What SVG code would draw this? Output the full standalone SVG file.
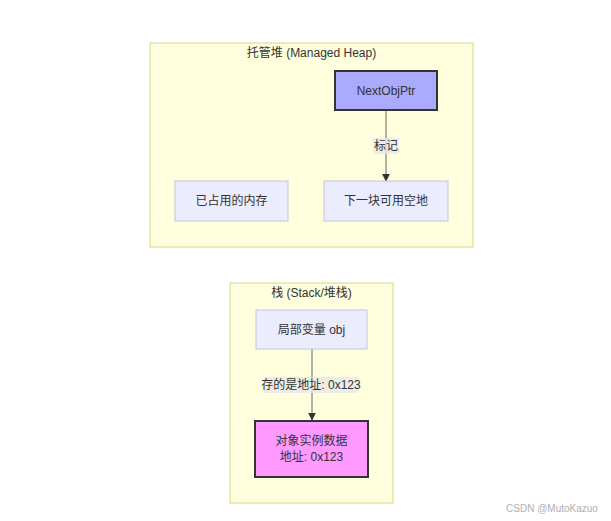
<svg xmlns="http://www.w3.org/2000/svg" width="611" height="521" viewBox="0 0 611 521">
<defs>
<style>
.cluster rect{fill:#ffffde;stroke:#d6d68a;stroke-width:1}
.node rect{fill:#ececff;stroke:#c4c4dc;stroke-width:1}
text{font-family:"Liberation Sans","Noto Sans CJK SC",sans-serif;font-size:12px;fill:#333;text-anchor:middle;dominant-baseline:central}
.edge{stroke:#666;stroke-width:1;fill:none;marker-end:url(#arr)}
.lbl{fill:#e8e8e8;opacity:0.8}
</style>
<marker id="arr" viewBox="0 0 10 10" refX="9" refY="5" markerWidth="8" markerHeight="8" orient="auto" markerUnits="userSpaceOnUse">
<path d="M0,0 L10,5 L0,10 z" fill="#333"/>
</marker>
</defs>
<rect width="611" height="521" fill="#ffffff"/>
<g id="heap" class="cluster">
<rect x="150" y="43" width="323" height="204"/>
<text x="311.5" y="53">托管堆 (Managed Heap)</text>
</g>
<g id="stack" class="cluster">
<rect x="230" y="283" width="163" height="220"/>
<text x="311.5" y="293">栈 (Stack/堆栈)</text>
</g>
<g id="connectors">
<line class="edge" x1="386" y1="110" x2="386" y2="181" style="stroke:#9a9a80;stroke-width:1.5"/>
<rect class="lbl" x="373" y="138" width="26" height="16"/>
<text x="386" y="146">标记</text>
<line class="edge" x1="312" y1="349" x2="312" y2="420"/>
<rect class="lbl" x="264" y="377" width="94" height="16"/>
<text x="311" y="385">存的是地址: 0x123</text>
</g>
<g id="nextObjPtr" class="node">
<rect x="335" y="71" width="102" height="39" style="fill:#aaaaff;stroke:#333;stroke-width:2"/>
<text x="386" y="90.5">NextObjPtr</text>
</g>
<g id="used" class="node">
<rect x="175" y="181" width="113" height="40"/>
<text x="231.5" y="201">已占用的内存</text>
</g>
<g id="free" class="node">
<rect x="324" y="181" width="124" height="40"/>
<text x="386" y="201">下一块可用空地</text>
</g>
<g id="obj" class="node">
<rect x="256" y="310" width="111" height="39"/>
<text x="311.5" y="329.5">局部变量 obj</text>
</g>
<g id="instance" class="node">
<rect x="255" y="421" width="113" height="56" style="fill:#ff99ff;stroke:#333;stroke-width:2"/>
<text x="311.5" y="441">对象实例数据</text>
<text x="311.5" y="457">地址: 0x123</text>
</g>
<text x="552" y="508" style="fill:#b0b0b0;font-size:10px">CSDN @MutoKazuo</text>
</svg>
